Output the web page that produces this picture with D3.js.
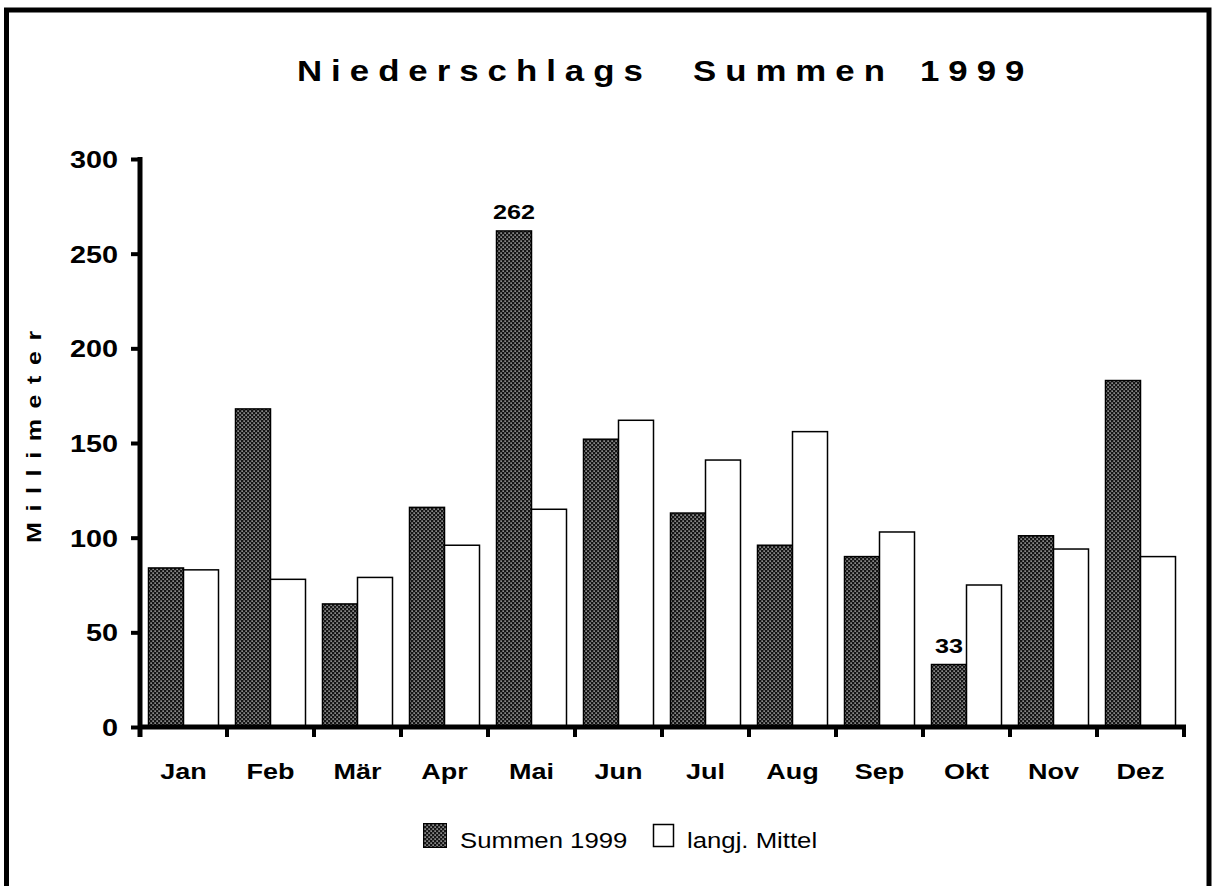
<!DOCTYPE html>
<html><head><meta charset="utf-8">
<script src="https://cdn.jsdelivr.net/npm/d3@7"></script>
<style>
html,body{margin:0;padding:0;background:#fff;}
svg{display:block;}
text{font-family:"Liberation Sans", Arial, Helvetica, sans-serif;fill:#000;}
</style></head>
<body>
<svg id="chart" width="1216" height="886"></svg>
<script>
const months = ["Jan","Feb","Mär","Apr","Mai","Jun","Jul","Aug","Sep","Okt","Nov","Dez"];
const summen1999 = [84, 168, 65, 116, 262, 152, 113, 96, 90, 33, 101, 183];
const mittel = [83, 78, 79, 96, 115, 162, 141, 156, 103, 75, 94, 90];
const yTicks = [0, 50, 100, 150, 200, 250, 300];
const seriesNames = ["Summen 1999", "langj. Mittel"];
const labelled = ["Mai", "Okt"];
const titleWords = ["Niederschlags", "Summen", "1999"];
const yTitle = "Millimeter";

const SX = 1.2;
const svg = d3.select("#chart");

// pattern for the dark stippled bars
const defs = svg.append("defs");
const pat = defs.append("pattern").attr("id","stipple").attr("patternUnits","userSpaceOnUse")
  .attr("width",4).attr("height",4);
pat.append("rect").attr("width",4).attr("height",4).attr("fill","#151515");
pat.append("rect").attr("x",0.5).attr("y",0.5).attr("width",1.2).attr("height",1.2).attr("fill","#fff");
pat.append("rect").attr("x",2.5).attr("y",2.5).attr("width",1.2).attr("height",1.2).attr("fill","#fff");

function stext(g, x, y, str, o) {
  o = o || {};
  const tf = o.rotate
    ? `translate(${x},${y}) rotate(${o.rotate}) scale(${o.sx || SX},1)`
    : `translate(${x},${y}) scale(${o.sx || SX},1)`;
  const t = g.append("text")
    .attr("transform", tf)
    .attr("text-anchor", o.anchor || "start")
    .attr("font-size", o.size || 22)
    .attr("font-weight", o.weight || "bold")
    .text(str);
  if (o.ls) t.attr("letter-spacing", o.ls);
  return t;
}

// outer frame (bottom edge is cut off in the reference)
svg.append("rect").attr("x",6.5).attr("y",10).attr("width",1202.5).attr("height",920)
  .attr("fill","none").attr("stroke","#000").attr("stroke-width",5);

// title
const titleX = [297, 693, 920];
titleWords.forEach((w,i) => stext(svg, titleX[i], 81, w, {size:29, ls:7.5}));

// scales
const x0 = d3.scaleBand().domain(months).range([140, 1184]).paddingInner(0).paddingOuter(0);
const x1 = d3.scaleBand().domain(seriesNames).range([8.5, 78.5]);
const y = d3.scaleLinear().domain([0, 300]).range([727, 159]);

// bars
const rows = months.map((m,i) => ({m, vals:[summen1999[i], mittel[i]]}));
const grp = svg.append("g").selectAll("g").data(rows).join("g")
  .attr("transform", d => `translate(${x0(d.m)},0)`);
grp.selectAll("rect").data(d => d.vals.map((v,j) => ({v, s:seriesNames[j]})))
  .join("rect")
  .attr("x", d => x1(d.s)).attr("width", x1.bandwidth())
  .attr("y", d => y(d.v)).attr("height", d => y(0) - y(d.v))
  .attr("fill", d => d.s === seriesNames[0] ? "url(#stipple)" : "#fff")
  .attr("stroke","#000").attr("stroke-width",1.5);

// data labels
rows.filter(d => labelled.includes(d.m)).forEach(d => {
  stext(svg, x0(d.m) + x1(seriesNames[0]) + x1.bandwidth()/2, y(d.vals[0]) - 12, String(d.vals[0]), {anchor:"middle", size:21});
});

// y axis
const yAxis = d3.axisLeft(y).tickValues(yTicks).tickSize(9).tickFormat("");
const ya = svg.append("g").attr("transform","translate(140,0)").call(yAxis);
ya.select(".domain").remove();
ya.selectAll(".tick line").attr("stroke","#000").attr("stroke-width",4);
svg.append("line").attr("x1",140).attr("x2",140).attr("y1",y(300)-2).attr("y2",737)
  .attr("stroke","#000").attr("stroke-width",5);
yTicks.forEach(v => stext(svg, 118, y(v) + 9, String(v), {anchor:"end", size:24}));

// x axis
svg.append("line").attr("x1",138).attr("x2",1186).attr("y1",y(0)).attr("y2",y(0))
  .attr("stroke","#000").attr("stroke-width",5);
const bounds = months.map(m => x0(m)).concat([x0.range()[1]]);
svg.append("g").selectAll("line").data(bounds).join("line")
  .attr("x1", d => d).attr("x2", d => d).attr("y1", y(0)).attr("y2", y(0) + 10)
  .attr("stroke","#000").attr("stroke-width",4);
months.forEach(m => stext(svg, x0(m) + x0.bandwidth()/2, 779, m, {anchor:"middle", size:22.5}));

// y title
stext(svg, 41, 543, yTitle, {rotate:-90, size:20, ls:8.5, sx:1.25});

// legend
const lg = svg.append("g");
lg.append("rect").attr("x",423.5).attr("y",823.5).attr("width",23).attr("height",24)
  .attr("fill","url(#stipple)").attr("stroke","#000").attr("stroke-width",1);
stext(lg, 460, 848, seriesNames[0], {size:22, weight:"normal", sx:1.17});
lg.append("rect").attr("x",653.5).attr("y",824.5).attr("width",20).attr("height",22)
  .attr("fill","#fff").attr("stroke","#000").attr("stroke-width",1.5);
stext(lg, 687, 848, seriesNames[1], {size:22, weight:"normal", sx:1.17});
</script>
</body></html>
